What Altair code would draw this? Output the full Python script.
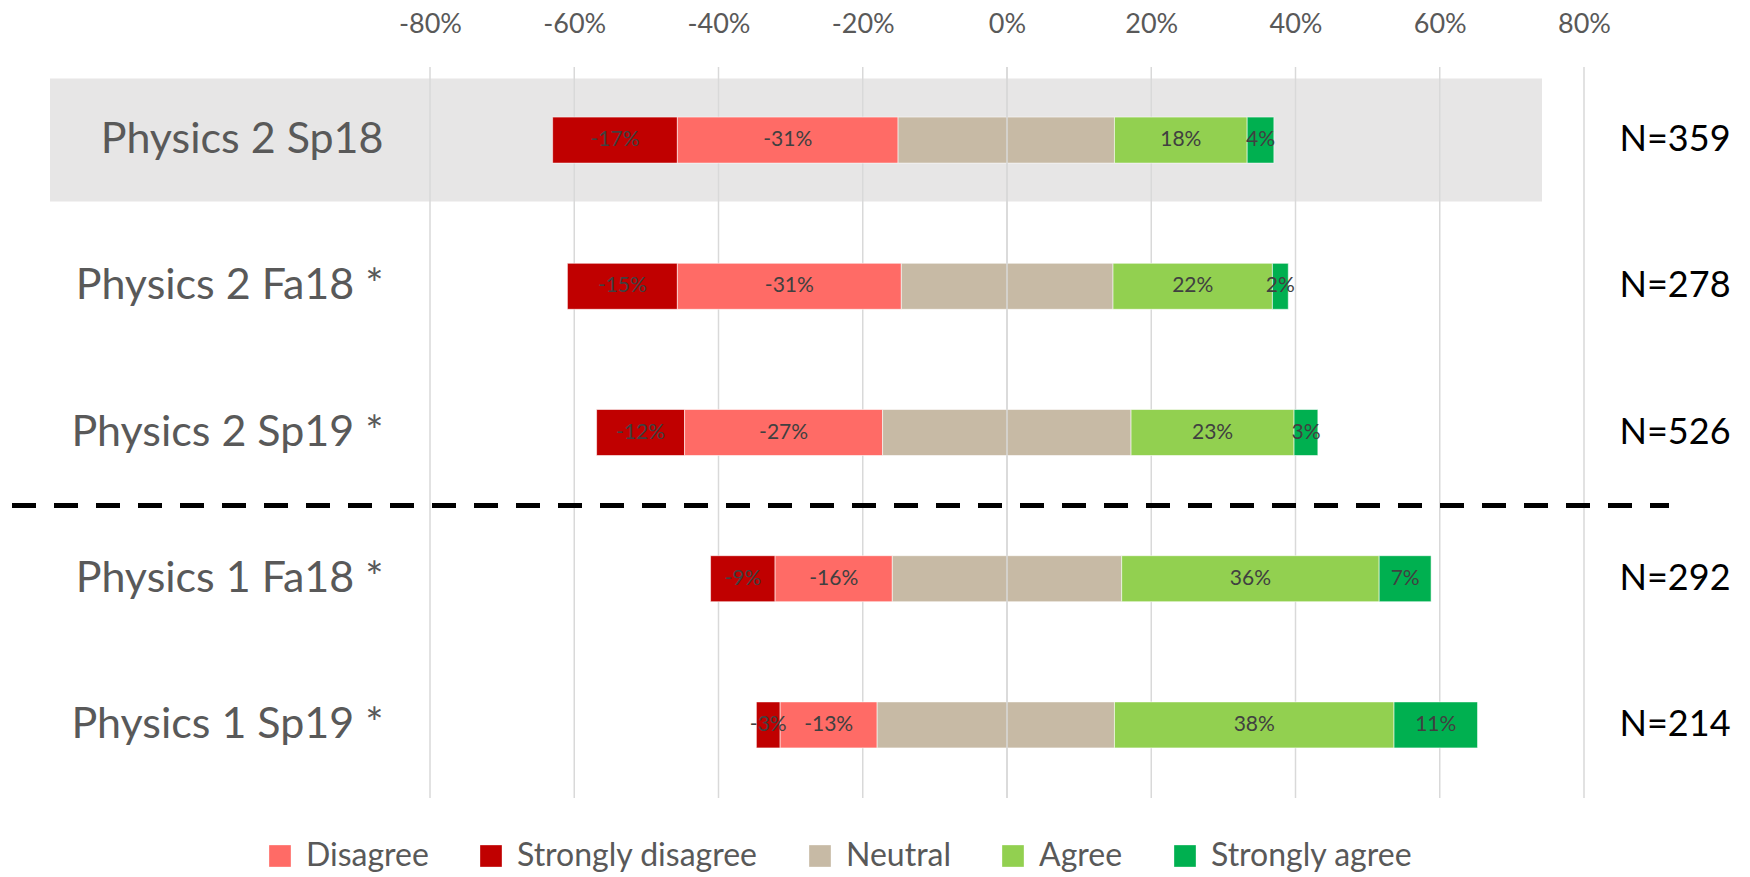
import altair as alt
import pandas as pd

# ---- data ----
rows = ["Physics 2 Sp18", "Physics 2 Fa18 *", "Physics 2 Sp19 *", "Physics 1 Fa18 *", "Physics 1 Sp19 *"]
n_counts = [359, 278, 526, 292, 214]

strongly_disagree = [17.3, 15.25, 12.2, 8.95, 3.3]
disagree = [30.6, 31.05, 27.45, 16.25, 13.45]
neutral_left = [15.1, 14.65, 17.25, 15.9, 18.0]
neutral_right = [14.9, 14.7, 17.2, 15.9, 14.9]
agree = [18.4, 22.1, 22.6, 35.7, 38.76]
strongly_agree = [3.7, 2.2, 3.3, 7.2, 11.58]

# printed data labels
sd_labels = [-17, -15, -12, -9, -3]
d_labels = [-31, -31, -27, -16, -13]
a_labels = [18, 22, 23, 36, 38]
sa_labels = [4, 2, 3, 7, 11]

tick_values = [-80, -60, -40, -20, 0, 20, 40, 60, 80]
categories = ["Disagree", "Strongly disagree", "Neutral", "Agree", "Strongly agree"]
colors = ["#FF6B66", "#C00000", "#C7BAA5", "#92D050", "#00B050"]

# ---- build tables ----
seg = []
txt = []
for i, r in enumerate(rows):
    x0 = -(strongly_disagree[i] + disagree[i] + neutral_left[i])
    parts = [
        ("Strongly disagree", strongly_disagree[i], sd_labels[i]),
        ("Disagree", disagree[i], d_labels[i]),
        ("Neutral", neutral_left[i] + neutral_right[i], None),
        ("Agree", agree[i], a_labels[i]),
        ("Strongly agree", strongly_agree[i], sa_labels[i]),
    ]
    for cat, w, lab in parts:
        seg.append({"row": r, "cat": cat, "x": x0, "x2": x0 + w})
        if lab is not None:
            txt.append({"row": r, "mid": x0 + w / 2, "label": f"{lab}%"})
        x0 += w
seg_df = pd.DataFrame(seg)
txt_df = pd.DataFrame(txt)
n_df = pd.DataFrame({"row": rows, "ntext": [f"N={n}" for n in n_counts]})
grid_df = pd.DataFrame({"tick": tick_values})
band_df = pd.DataFrame({"row": [rows[0]]})
sep_df = pd.DataFrame({"row": [rows[3]]})

FONT = "Lato"
W, H = 1154, 731

xscale = alt.Scale(domain=[-80, 80], nice=False, zero=False)
yscale = alt.Scale(domain=rows, paddingInner=0, paddingOuter=0)
xaxis = alt.Axis(orient="top", values=tick_values, labelExpr="datum.value + '%'", grid=False,
                 domain=False, ticks=False, labelFontSize=27, labelColor="#595959", labelFont=FONT,
                 labelPadding=29, labelFlush=False, labelOverlap=False, title=None)
yaxis = alt.Axis(orient="left", domain=False, ticks=False, labelFontSize=43, labelColor="#595959",
                 labelFont=FONT, labelPadding=47, labelLimit=500, title=None, zindex=1)

def yenc(**kw):
    return alt.Y("row:N", scale=yscale, axis=yaxis, sort=rows, **kw)

band = alt.Chart(band_df).mark_bar(height=123, color="#E7E6E6").encode(
    y=yenc(), x=alt.value(-380), x2=alt.value(1112))

grid = alt.Chart(grid_df).mark_rule(color="#D9D9D9", strokeWidth=1.5).encode(
    x=alt.X("tick:Q", scale=xscale, axis=xaxis), y=alt.value(0), y2=alt.value(H))

bars = alt.Chart(seg_df).mark_bar(height=46, stroke="white", strokeWidth=0.8, strokeOpacity=0.7).encode(
    y=yenc(),
    x=alt.X("x:Q", scale=xscale, axis=xaxis),
    x2="x2:Q",
    color=alt.Color("cat:N", scale=alt.Scale(domain=categories, range=colors),
                    legend=alt.Legend(orient="none", legendX=-166, legendY=773, direction="horizontal",
                                      title=None, symbolType="square", symbolSize=470,
                                      symbolStrokeWidth=0, labelFontSize=32, labelColor="#595959",
                                      labelFont=FONT, labelOffset=10, columnPadding=46,
                                      labelLimit=0)),
)

zero = alt.Chart(grid_df).transform_filter("datum.tick == 0").mark_rule(
    color="#D9D9D9", strokeWidth=1.5).encode(
    x=alt.X("tick:Q", scale=xscale, axis=xaxis), y=alt.value(0), y2=alt.value(H))

labels = alt.Chart(txt_df).mark_text(font=FONT, fontSize=21, color="#404040").encode(
    y=yenc(), x=alt.X("mid:Q", scale=xscale, axis=xaxis), text="label:N")

ntext = alt.Chart(n_df).mark_text(font=FONT, fontSize=36, color="black").encode(
    y=yenc(), x=alt.value(1245), text="ntext:N")

sep = alt.Chart(sep_df).mark_rule(color="black", strokeWidth=5, strokeDash=[24, 18]).encode(
    y=yenc(bandPosition=0), x=alt.value(-418), x2=alt.value(1239))

chart = alt.layer(band, grid, bars, zero, labels, ntext, sep).properties(
    width=W, height=H,
    padding={"left": 430, "top": 67, "right": 166, "bottom": 79},
    autosize="none",
    background="white",
).configure_view(stroke=None)

chart.save("out.html", embed_options={"renderer": "svg", "actions": False})
